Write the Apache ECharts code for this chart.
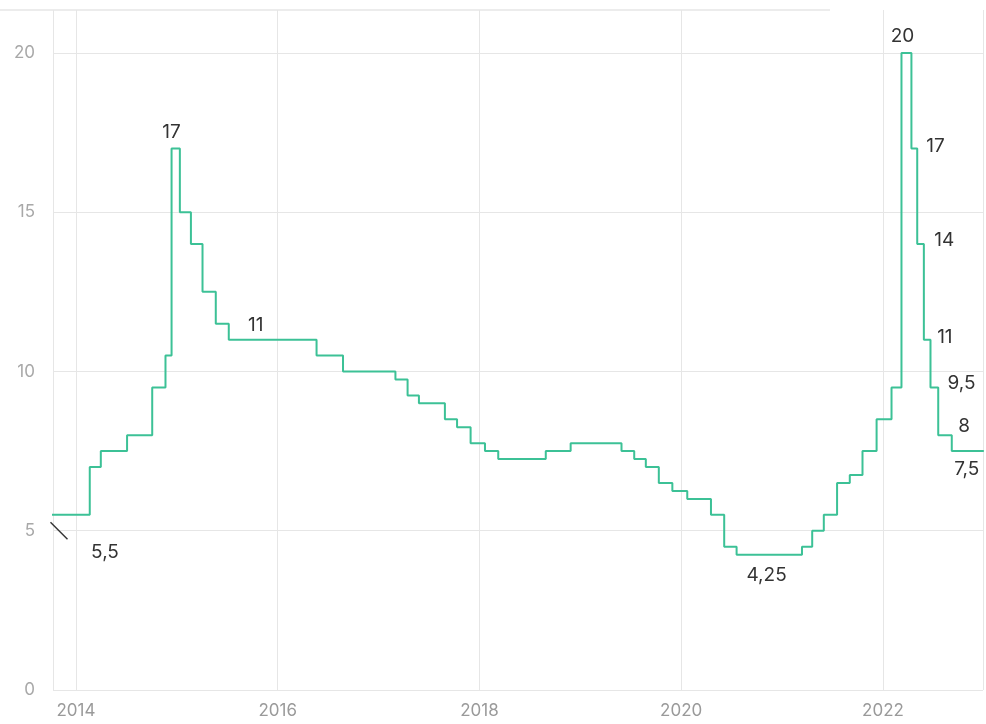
<!DOCTYPE html>
<html>
<head>
<meta charset="utf-8">
<style>
  html, body { margin: 0; padding: 0; background: #ffffff; }
  #chart { width: 986px; height: 724px; }
</style>
<script src="https://cdn.jsdelivr.net/npm/echarts@6/dist/echarts.min.js"></script>
</head>
<body>
<div id="chart"></div>
<script>
// Key rate, % — each entry is the date a new rate took effect
const rateDates = [
  '2013-09-13', '2014-02-20', '2014-04-01', '2014-07-05', '2014-10-04', '2014-11-21',
  '2014-12-13', '2015-01-12', '2015-02-21', '2015-04-04', '2015-05-22', '2015-07-08',
  '2016-05-21', '2016-08-25', '2017-03-03', '2017-04-16', '2017-05-27', '2017-08-29',
  '2017-10-12', '2017-11-30', '2018-01-21', '2018-03-10', '2018-08-29', '2018-11-27',
  '2019-05-30', '2019-07-15', '2019-08-26', '2019-10-12', '2019-11-30', '2020-01-23',
  '2020-04-18', '2020-06-05', '2020-07-20', '2021-03-14', '2021-04-20', '2021-06-01',
  '2021-07-19', '2021-09-03', '2021-10-19', '2021-12-09', '2022-02-01', '2022-03-09',
  '2022-04-14', '2022-05-05', '2022-05-29', '2022-06-22', '2022-07-20', '2022-09-07',
  '2023-01-01'
];
const rateValues = [
  5.5, 7.0, 7.5, 8.0, 9.5, 10.5,
  17.0, 15.0, 14.0, 12.5, 11.5, 11.0,
  10.5, 10.0, 9.75, 9.25, 9.0, 8.5,
  8.25, 7.75, 7.5, 7.25, 7.5, 7.75,
  7.5, 7.25, 7.0, 6.5, 6.25, 6.0,
  5.5, 4.5, 4.25, 4.5, 5.0, 5.5,
  6.5, 6.75, 7.5, 8.5, 9.5, 20.0,
  17.0, 14.0, 11.0, 9.5, 8.0, 7.5,
  7.5
];

// Rate changes that carry a value label
const noteDates = [
  '2013-09-13', '2014-12-13', '2015-07-08', '2020-07-20', '2022-03-09', '2022-04-14',
  '2022-05-05', '2022-05-29', '2022-06-22', '2022-07-20', '2022-09-07'
];
const noteValues = [5.5, 17, 11, 4.25, 20, 17, 14, 11, 9.5, 8, 7.5];

// Visible time window of the x axis
const axisStart = '2013-10-10';
const axisEnd = '2022-12-29';

// Date -> fractional year, so year ticks fall on 1 January
function toYear(s) {
  const d = new Date(s + 'T00:00:00Z');
  const y = d.getUTCFullYear();
  const start = Date.UTC(y, 0, 1);
  const end = Date.UTC(y + 1, 0, 1);
  return y + (d.getTime() - start) / (end - start);
}
const fmt = v => String(v).replace('.', ',');

const xMin = toYear(axisStart);
const xMax = toYear(axisEnd);
const seriesData = rateDates.map((d, i) => [toYear(d), rateValues[i]]);

// Label offsets (px) from each noted point
const noteOffsets = [
  [52, 37], [0, -16], [27, -14], [30, 21], [1, -17], [24, -2],
  [27, -4], [21, -2], [31, -4], [26, -9], [15, 18]
];

// anchors are kept inside the visible window
const noteCoord = i => [Math.max(toYear(noteDates[i]), xMin), noteValues[i]];

const markData = noteDates.map((d, i) => ({
  coord: noteCoord(i),
  value: noteValues[i],
  symbol: 'circle',
  symbolSize: 1,
  itemStyle: { color: 'rgba(0,0,0,0)' },
  label: {
    show: true,
    position: 'inside',
    offset: noteOffsets[i],
    formatter: fmt(noteValues[i]),
    color: '#333333',
    fontSize: 19,
    fontFamily: 'Inter',
    align: 'center',
    verticalAlign: 'middle'
  }
}));
// short leader stroke next to the first value
markData.push({
  coord: noteCoord(0),
  symbol: 'path://M0,0L10,10',
  symbolSize: [17, 17],
  symbolOffset: [6, 16],
  itemStyle: { color: 'rgba(0,0,0,0)', borderColor: '#333333', borderWidth: 1.5 },
  label: { show: false }
});

const gridColor = '#e6e6e6';
const lineColor = '#3cc196';

const chart = echarts.init(document.getElementById('chart'), null, { renderer: 'canvas' });
chart.setOption({
  animation: false,
  backgroundColor: '#ffffff',
  grid: { left: 53, right: 3, top: 10, bottom: 34, containLabel: false },
  graphic: [{
    type: 'line',
    shape: { x1: 0, y1: 10, x2: 830, y2: 10 },
    style: { stroke: '#ececec', lineWidth: 2 },
    z: 0
  }],
  xAxis: {
    type: 'value',
    min: xMin,
    max: xMax,
    axisLine: { show: false },
    axisTick: { show: false },
    splitLine: { show: true, lineStyle: { color: gridColor, width: 1 } },
    axisLabel: {
      showMinLabel: false,
      showMaxLabel: false,
      margin: 12,
      color: '#9a9a9a',
      fontSize: 17,
      fontFamily: 'Inter',
      formatter: v => String(Math.round(v))
    }
  },
  yAxis: {
    type: 'value',
    min: 0,
    max: 21.35,
    interval: 5,
    axisLine: { show: false },
    axisTick: { show: false },
    splitLine: { show: true, showMaxLine: false, lineStyle: { color: gridColor, width: 1 } },
    axisLabel: {
      showMaxLabel: false,
      margin: 18,
      color: '#a8a8a8',
      fontSize: 17,
      fontFamily: 'Inter'
    }
  },
  series: [{
    type: 'line',
    step: 'end',
    data: seriesData,
    showSymbol: false,
    lineStyle: { color: lineColor, width: 2 },
    itemStyle: { color: lineColor },
    markPoint: { silent: true, data: markData }
  }]
});
</script>
</body>
</html>
